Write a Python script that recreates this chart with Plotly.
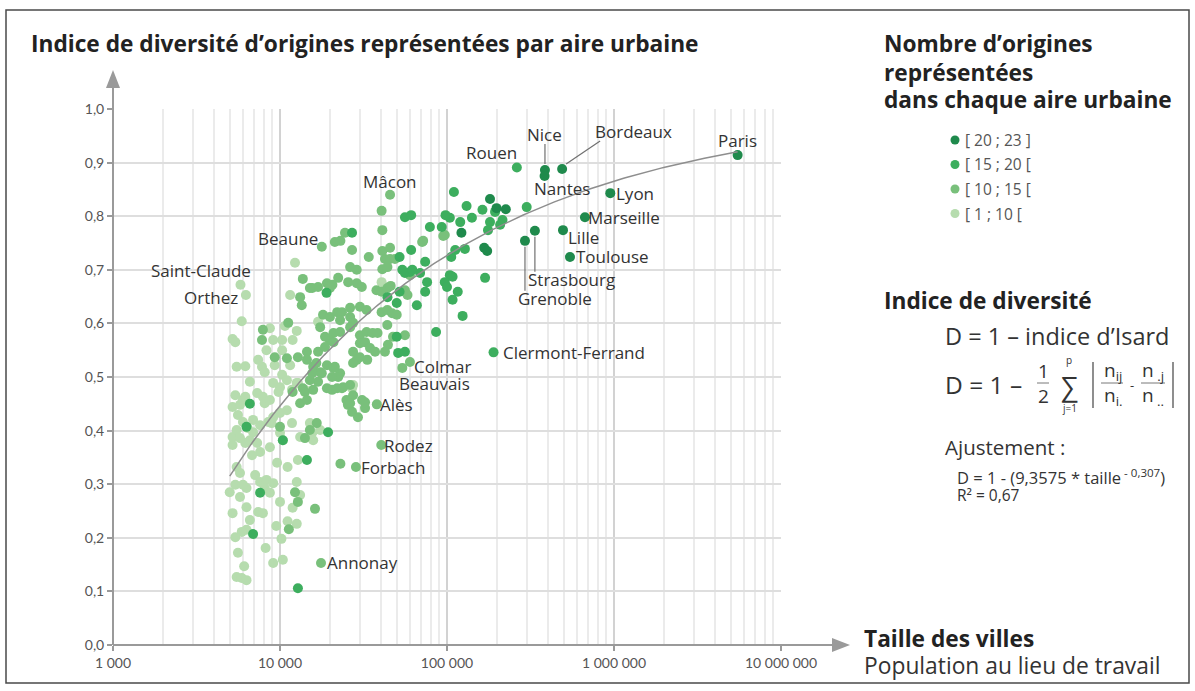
import numpy as np
import plotly.graph_objects as go

# ---------------------------------------------------------------- data
class_labels = ["[ 20 ; 23 ]", "[ 15 ; 20 [", "[ 10 ; 15 [", "[ 1 ; 10 ["]
class_colors = ["#1f8a4c", "#3dae5e", "#79c07b", "#b6dcae"]

# named urban areas (population at place of work, diversity index, class index)
city_names = ["Paris", "Lyon", "Marseille", "Toulouse", "Lille", "Strasbourg", "Grenoble",
              "Nice", "Nantes", "Bordeaux", "Rouen", "Clermont-Ferrand",
              "Mâcon", "Beaune", "Colmar", "Beauvais", "Alès", "Rodez", "Forbach", "Annonay",
              "Saint-Claude", "Orthez"]
city_pop = [5500000, 950000, 670000, 545000, 495000, 336000, 293000,
            386000, 384000, 489000, 262000, 190000,
            45600, 17800, 60000, 54000, 38000, 40400, 28500, 17600,
            5800, 6250]
city_d = [0.914, 0.843, 0.798, 0.724, 0.774, 0.773, 0.754,
          0.886, 0.875, 0.888, 0.891, 0.546,
          0.840, 0.743, 0.528, 0.517, 0.449, 0.373, 0.332, 0.153,
          0.672, 0.653]
city_class = [0, 0, 0, 0, 0, 0, 0, 0, 0, 0, 1, 1,
              2, 2, 2, 2, 2, 2, 2, 2, 3, 3]

# other urban areas, one pair of lists per class
pop_20_23 = [181000, 225000, 198000, 167000, 174000, 122000]
d_20_23 = [0.832, 0.813, 0.815, 0.741, 0.735, 0.769]

pop_15_20 = [110000, 131000, 141000, 163000, 194000, 300000, 56000, 61000, 79000, 93000,
             104000, 120000, 181000, 215000, 208000, 98000, 61000, 74000, 112000, 128000,
             176000, 106000, 56000, 60000, 52000, 69000, 104000, 108000, 97000, 100000,
             74000, 108000, 116000, 169000, 66000, 52000, 124000, 86000, 76000, 54000,
             62000, 44000, 50000, 50000, 51000, 56000, 19000, 27000, 6600, 14500,
             6900, 12800, 7600, 6300, 10400, 19400]
d_15_20 = [0.845, 0.819, 0.797, 0.812, 0.808, 0.817, 0.798, 0.802, 0.780, 0.780,
           0.797, 0.789, 0.789, 0.793, 0.784, 0.802, 0.737, 0.715, 0.737, 0.739,
           0.774, 0.724, 0.694, 0.696, 0.724, 0.694, 0.690, 0.687, 0.677, 0.668,
           0.659, 0.644, 0.659, 0.685, 0.634, 0.659, 0.614, 0.584, 0.677, 0.700,
           0.700, 0.649, 0.638, 0.575, 0.545, 0.547, 0.657, 0.769, 0.450, 0.345,
           0.207, 0.106, 0.284, 0.407, 0.382, 0.397]

pop_10_15 = [23000, 40600, 41000, 21300, 24500, 23000, 27000, 34000, 41000, 45600,
             42500, 45600, 48800, 26300, 28800, 41000, 44000, 13700, 15600, 16900,
             19100, 19900, 22300, 25600, 28800, 30900, 37800, 40600, 44000, 46000,
             56000, 58000, 60000, 72000, 95000, 71000, 97000, 13200, 13500, 15100,
             20600, 18100, 19900, 22000, 23500, 26300, 30100, 33000, 22900, 26300,
             27400, 40600, 43900, 46900, 50000, 43900, 56000, 20900, 22900, 19900,
             26300, 30100, 33000, 35900, 38400, 47500, 44300, 30100, 32300, 34600,
             27400, 28800, 30100, 37100, 42500, 17400, 18600, 14500, 16900, 18600,
             20900, 19100, 20900, 22900, 22300, 27400, 33300, 23500, 20500, 16900,
             15100, 13700, 14100, 25000, 25500, 27000, 29300, 31000, 32300, 15800,
             17400, 21300, 15600, 17800, 20500, 15800, 19100, 22000, 23900, 26300,
             27400, 32300, 26300, 11000, 12800, 14500, 9300, 16500, 7900, 7800,
             11200, 15100, 16600, 14100, 16200, 12300, 12800, 13200, 14500, 11900,
             10000, 11300]
d_10_15 = [0.338, 0.810, 0.774, 0.752, 0.769, 0.754, 0.737, 0.724, 0.735, 0.741,
           0.720, 0.720, 0.720, 0.705, 0.700, 0.701, 0.705, 0.683, 0.666, 0.668,
           0.675, 0.666, 0.685, 0.677, 0.675, 0.668, 0.662, 0.659, 0.666, 0.670,
           0.662, 0.653, 0.690, 0.754, 0.763, 0.752, 0.765, 0.649, 0.634, 0.666,
           0.672, 0.616, 0.612, 0.621, 0.621, 0.629, 0.631, 0.625, 0.606, 0.612,
           0.601, 0.621, 0.625, 0.619, 0.616, 0.597, 0.578, 0.582, 0.584, 0.569,
           0.593, 0.578, 0.584, 0.582, 0.582, 0.575, 0.560, 0.563, 0.565, 0.554,
           0.547, 0.532, 0.537, 0.547, 0.547, 0.593, 0.575, 0.547, 0.547, 0.556,
           0.565, 0.522, 0.517, 0.507, 0.500, 0.526, 0.532, 0.479, 0.476, 0.491,
           0.494, 0.479, 0.472, 0.457, 0.448, 0.435, 0.425, 0.457, 0.442, 0.519,
           0.509, 0.519, 0.507, 0.507, 0.500, 0.476, 0.479, 0.479, 0.481, 0.485,
           0.466, 0.453, 0.451, 0.535, 0.537, 0.532, 0.537, 0.526, 0.588, 0.569,
           0.601, 0.401, 0.414, 0.386, 0.254, 0.285, 0.267, 0.451, 0.457, 0.472,
           0.407, 0.216]

pop_1_10 = [12300, 5900, 5200, 5400, 5500, 6200, 6600, 7800, 8100, 8700,
            9100, 10700, 11900, 12600, 10300, 10300, 11500, 16900, 19900, 27400,
            40600, 27000, 5200, 5200, 5500, 5760, 6200, 6600, 7300, 7600,
            6800, 6400, 8700, 8900, 9600, 10000, 10400, 11100, 12800, 11800,
            15100, 17400, 15600, 13200, 15800, 5000, 5400, 5760, 6300, 6300,
            6000, 7100, 7600, 8300, 8100, 7400, 7900, 5760, 5500, 5200,
            6600, 6300, 5900, 5400, 5600, 6100, 5500, 5900, 6300, 8700,
            9100, 10000, 11900, 13200, 12600, 10400, 9100, 8200, 10200, 9500,
            12600, 11100, 5200, 5760, 6000, 5600, 6000, 6900, 7300, 7900,
            8100, 8700, 9100, 10000, 10300, 11000, 11800, 12600, 11000, 10000,
            9100, 8500, 7600, 6900, 6200, 5400, 12800, 14100, 7400, 8300,
            9300, 11500, 9800]
d_1_10 = [0.713, 0.604, 0.571, 0.565, 0.519, 0.520, 0.491, 0.519, 0.509, 0.591,
          0.569, 0.595, 0.569, 0.586, 0.569, 0.550, 0.653, 0.603, 0.569, 0.485,
          0.677, 0.479, 0.373, 0.388, 0.401, 0.386, 0.377, 0.382, 0.377, 0.360,
          0.354, 0.405, 0.369, 0.414, 0.340, 0.396, 0.382, 0.332, 0.345, 0.414,
          0.414, 0.401, 0.396, 0.388, 0.382, 0.285, 0.299, 0.276, 0.257, 0.293,
          0.299, 0.317, 0.304, 0.308, 0.293, 0.248, 0.246, 0.321, 0.332, 0.246,
          0.233, 0.215, 0.211, 0.201, 0.172, 0.147, 0.127, 0.125, 0.121, 0.284,
          0.302, 0.267, 0.256, 0.280, 0.304, 0.159, 0.153, 0.181, 0.198, 0.222,
          0.226, 0.231, 0.444, 0.448, 0.457, 0.429, 0.416, 0.420, 0.470, 0.463,
          0.451, 0.457, 0.489, 0.481, 0.504, 0.494, 0.476, 0.489, 0.438, 0.433,
          0.425, 0.416, 0.410, 0.397, 0.463, 0.466, 0.489, 0.476, 0.532, 0.550,
          0.522, 0.522, 0.472]

# power-law fit stated in the side panel: D = 1 - (9,3575 * taille^-0,307)
FIT_A = 9.3575
FIT_B = -0.307
FIT_POP_MIN = 5000
FIT_POP_MAX = 5500000

x_tick_values = [1e3, 1e4, 1e5, 1e6, 1e7]
x_tick_labels = ["1 000", "10 000", "100 000", "1 000 000", "10 000 000"]
y_tick_values = [i / 10 for i in range(11)]
y_tick_labels = ["0,0", "0,1", "0,2", "0,3", "0,4", "0,5", "0,6", "0,7", "0,8", "0,9", "1,0"]
X_LOG_RANGE = [3, 7]

# ---------------------------------------------------------------- layout helpers
W, H = 1195, 691
L, R, T, B = 113, 781, 109, 645          # plot area in page pixels
FONT = "'Open Sans', Lato, sans-serif"
TICK_FONT = "Lato, 'Open Sans', sans-serif"
AXIS_GREY = "#9a9a9a"
INK = "#333333"


def px(x):
    return (x - L) / (R - L)


def py(y):
    return (B - y) / (B - T)


def data_to_paper(pop, d):
    lo, hi = X_LOG_RANGE
    return (np.log10(pop) - lo) / (hi - lo), d


class_pops = [pop_20_23, pop_15_20, pop_10_15, pop_1_10]
class_ds = [d_20_23, d_15_20, d_10_15, d_1_10]

fig = go.Figure()

# lightest class first so the darker classes sit on top
for k in [3, 2, 1, 0]:
    xs = list(class_pops[k]) + [p for p, c in zip(city_pop, city_class) if c == k]
    ys = list(class_ds[k]) + [d for d, c in zip(city_d, city_class) if c == k]
    fig.add_trace(go.Scatter(
        x=xs, y=ys, mode="markers", name=class_labels[k], showlegend=False,
        marker=dict(size=10, color=class_colors[k], line=dict(width=0)),
        hoverinfo="skip"))

fit_x = np.geomspace(FIT_POP_MIN, FIT_POP_MAX, 200)
fit_y = 1 - FIT_A * fit_x ** FIT_B
fig.add_trace(go.Scatter(x=fit_x, y=fit_y, mode="lines", showlegend=False,
                         line=dict(color="#8e8e8e", width=1.5), hoverinfo="skip"))

annotations = []
shapes = []

# city labels: (xanchor, xshift, yshift)
label_pos = {
    "Paris": ("center", 0, 15), "Lyon": ("left", 5, 0), "Marseille": ("left", 2, 0),
    "Toulouse": ("left", 5, 0), "Lille": ("left", 4, -7), "Nantes": ("left", -12, -12),
    "Rouen": ("right", 1, 15), "Clermont-Ferrand": ("left", 8, 0),
    "Mâcon": ("center", 0, 13), "Beaune": ("right", -3, 8), "Colmar": ("left", 3, -5),
    "Beauvais": ("left", -4, -16), "Alès": ("left", 2, 0), "Rodez": ("left", 2, 0),
    "Forbach": ("left", 4, 0), "Annonay": ("left", 5, 0),
    "Saint-Claude": ("right", 12, 14), "Orthez": ("right", -7, -3),
    "Nice": ("center", 0, 36), "Bordeaux": ("left", 32, 38),
    "Strasbourg": ("left", -8, -49), "Grenoble": ("left", -8, -58),
}
# leader lines: pixel offsets (x0, y0, x1, y1) from the point, y pointing up
leaders = {"Nice": (0, 6, 0, 26), "Bordeaux": (4, 5, 38, 28),
           "Strasbourg": (0, -6, 0, -41), "Grenoble": (0, -6, 0, -50)}
PW, PH = R - L, B - T

for name, p, d in zip(city_names, city_pop, city_d):
    xa, xs, ys = label_pos[name]
    annotations.append(dict(x=np.log10(p), y=d, xref="x", yref="y", text=name,
                            showarrow=False, xanchor=xa, yanchor="middle",
                            xshift=xs, yshift=ys, borderpad=0,
                            font=dict(family=FONT, size=17, color=INK)))
    if name in leaders:
        x0, y0, x1, y1 = leaders[name]
        cx, cy = data_to_paper(p, d)
        shapes.append(dict(type="line", xref="paper", yref="paper",
                           x0=cx + x0 / PW, y0=cy + y0 / PH,
                           x1=cx + x1 / PW, y1=cy + y1 / PH,
                           line=dict(color="#707070", width=1.2)))

# axis lines with arrow heads
shapes.append(dict(type="line", xref="paper", yref="paper",
                   x0=px(113), y0=py(645), x1=px(113), y1=py(84),
                   line=dict(color=AXIS_GREY, width=2)))
shapes.append(dict(type="path", xref="paper", yref="paper",
                   path=f"M{px(113)},{py(70)} L{px(106)},{py(88)} L{px(120)},{py(88)} Z",
                   fillcolor=AXIS_GREY, line=dict(width=0)))
shapes.append(dict(type="line", xref="paper", yref="paper",
                   x0=px(113), y0=py(645), x1=px(836), y1=py(645),
                   line=dict(color=AXIS_GREY, width=2)))
shapes.append(dict(type="path", xref="paper", yref="paper",
                   path=f"M{px(850)},{py(645)} L{px(832)},{py(638)} L{px(832)},{py(652)} Z",
                   fillcolor=AXIS_GREY, line=dict(width=0)))


def text(x, y, s, size, bold=False, color="#222222", xanchor="left"):
    annotations.append(dict(x=px(x), y=py(y), xref="paper", yref="paper",
                            text=f"<b>{s}</b>" if bold else s, showarrow=False,
                            xanchor=xanchor, yanchor="middle", borderpad=0,
                            font=dict(family=FONT, size=size, color=color)))


def hline(x0, x1, y, width=1.0):
    shapes.append(dict(type="line", xref="paper", yref="paper",
                       x0=px(x0), x1=px(x1), y0=py(y), y1=py(y),
                       line=dict(color="#555555", width=width)))


TITLE = 22.7
text(30, 43, "Indice de diversité d’origines représentées par aire urbaine", TITLE, bold=True)
text(883, 43, "Nombre d’origines", TITLE, bold=True)
text(883, 72, "représentées", TITLE, bold=True)
text(883, 100, "dans chaque aire urbaine", TITLE, bold=True)

for i, (lab, col) in enumerate(zip(class_labels, class_colors)):
    yy = 140 + i * 24.5
    shapes.append(dict(type="circle", xref="paper", yref="paper",
                       xsizemode="pixel", ysizemode="pixel",
                       xanchor=px(955), yanchor=py(yy), x0=-4.5, x1=4.5, y0=-4.5, y1=4.5,
                       fillcolor=col, line=dict(width=0)))
    text(964, yy, lab, 15.5, color="#555555")

text(883, 300, "Indice de diversité", TITLE, bold=True)
text(944, 336, "D = 1 – indice d’Isard", 23.5, color=INK)

# D = 1 - 1/2 * sum_j | n_ij / n_i. - n_.j / n_.. |
text(944, 384, "D = 1 –", 24.5, color=INK)
text(1043, 383, "1<br>2", 19, color=INK, xanchor="center")
hline(1037, 1049, 383, 0.8)
text(1069, 385, "∑", 27, color=INK, xanchor="center")
text(1069, 360, "p", 10, color=INK, xanchor="center")
text(1069, 408, "j=1", 10, color=INK, xanchor="center")
text(1113, 383, "n<sub>ij</sub><br>n<sub>i.</sub>", 19, color=INK, xanchor="center")
hline(1101, 1123, 383, 0.8)
text(1132, 385, "-", 13, color=INK, xanchor="center")
text(1153, 383, "n<sub> .j</sub><br>n<sub> ..</sub>", 19, color=INK, xanchor="center")
hline(1141, 1165, 383, 0.8)
for bx in (1093, 1173):
    shapes.append(dict(type="line", xref="paper", yref="paper",
                       x0=px(bx), x1=px(bx), y0=py(362), y1=py(408),
                       line=dict(color="#444444", width=1.2)))

text(944, 447, "Ajustement :", 20.5, color=INK)
text(956, 477, "D = 1 - (9,3575 * taille<sup> - 0,307</sup>)", 16.5, color=INK)
text(956, 495, "R² = 0,67", 15.5, color=INK)

text(863, 638, "Taille des villes", TITLE, bold=True)
text(863, 665, "Population au lieu de travail", 22.8, color=INK)

# page frame
shapes.append(dict(type="rect", xref="paper", yref="paper",
                   x0=px(6), x1=px(1189), y0=py(683), y1=py(10),
                   line=dict(color="#4a4a4a", width=1.5), fillcolor="rgba(0,0,0,0)",
                   layer="below"))

fig.update_layout(
    width=W, height=H,
    margin=dict(l=L, r=W - R, t=T, b=H - B, pad=0),
    paper_bgcolor="white", plot_bgcolor="white",
    font=dict(family=FONT, color="#555555"),
    showlegend=False,
    annotations=annotations, shapes=shapes,
    xaxis=dict(type="log", range=X_LOG_RANGE, tickvals=x_tick_values, ticktext=x_tick_labels,
               showgrid=True, gridcolor="#d2d2d2", gridwidth=1.5,
               minor=dict(dtick="D1", showgrid=True, gridcolor="#ebebeb", gridwidth=1.5,
                          ticks=""),
               ticks="outside", ticklen=5, tickcolor=AXIS_GREY, tickwidth=1.5,
               showline=False, zeroline=False,
               tickfont=dict(family=TICK_FONT, size=14, color="#555555")),
    yaxis=dict(range=[0, 1], tickvals=y_tick_values, ticktext=y_tick_labels,
               showgrid=True, gridcolor="#dedede", gridwidth=1.5,
               ticks="outside", ticklen=5, tickcolor=AXIS_GREY, tickwidth=1.5,
               showline=False, zeroline=False,
               tickfont=dict(family=TICK_FONT, size=14, color="#555555")),
)

fig.write_html("out.html")
